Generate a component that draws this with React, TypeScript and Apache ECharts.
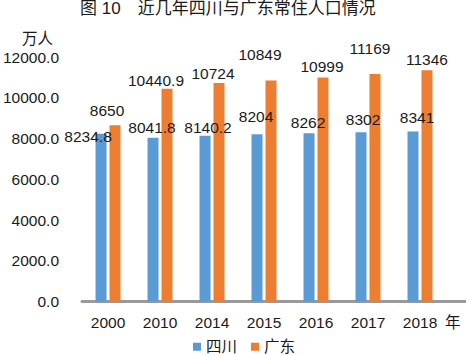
import React, { useEffect, useRef } from "react";
import * as echarts from "echarts";

const categories = ["2000", "2010", "2014", "2015", "2016", "2017", "2018"];
const sichuan = [8234.8, 8041.8, 8140.2, 8204, 8262, 8302, 8341];
const guangdong = [8650, 10440.9, 10724, 10849, 10999, 11169, 11346];
const yTicks = [0, 2000, 4000, 6000, 8000, 10000, 12000];

// label nudges (style only)
const sichuanLabelOffsets = [[-13, 16], [-1, 3], [3, 5], [-1, -5], [-1, 2], [2, 0], [4, -1]];
const guangdongLabelOffsets = [[-8, -2], [-11, 4], [-6, 3], [-11, -13], [-1, 2], [-5, -13], [0, 2]];

const FONT = "'Liberation Sans', 'Noto Sans CJK SC', sans-serif";
const TXT = "#1a1a1a";
const FS = 15.5;

export default function App() {
  const ref = useRef<HTMLDivElement>(null);
  useEffect(() => {
    if (!ref.current) return;
    const chart = echarts.init(ref.current, undefined, { renderer: "svg" });
    const fmt = (v: number) => (Number.isInteger(v) ? String(v) : v.toFixed(1));
    chart.setOption({
      animation: false,
      backgroundColor: "#ffffff",
      textStyle: { fontFamily: FONT, color: TXT },
      title: {
        text: "图 10　近几年四川与广东常住人口情况",
        left: 80,
        top: 0,
        padding: 0,
        textStyle: { fontSize: 17, fontWeight: "normal", color: TXT, fontFamily: FONT },
      },
      legend: {
        left: 193,
        top: 339,
        padding: 0,
        itemWidth: 8,
        itemHeight: 8,
        itemGap: 14,
        icon: "rect",
        textStyle: { fontSize: FS, color: TXT, fontFamily: FONT },
        data: ["四川", "广东"],
      },
      grid: { left: 82, right: 23, top: 57, bottom: 53.5, containLabel: false },
      xAxis: {
        type: "category",
        data: categories,
        axisLine: { show: true, lineStyle: { color: "#999999", width: 3 } },
        axisTick: { show: false },
        axisLabel: { fontSize: FS, color: TXT, margin: 13, fontFamily: FONT },
      },
      yAxis: {
        type: "value",
        min: yTicks[0],
        max: yTicks[yTicks.length - 1],
        interval: 2000,
        axisLine: { show: false },
        axisTick: { show: false },
        splitLine: { show: false },
        axisLabel: {
          fontSize: FS,
          color: TXT,
          margin: 23,
          fontFamily: FONT,
          formatter: (v: number) => v.toFixed(1),
        },
      },
      graphic: [
        {
          type: "line",
          shape: { x1: 445, y1: 301.5, x2: 466, y2: 301.5 },
          style: { stroke: "#999999", lineWidth: 3 },
        },
        {
          type: "text",
          x: 22,
          y: 38,
          style: { text: "万人", fill: TXT, font: `${FS}px ${FONT}`, verticalAlign: "middle" },
        },
        {
          type: "text",
          x: 445,
          y: 322,
          style: { text: "年", fill: TXT, font: `${FS}px ${FONT}`, verticalAlign: "middle" },
        },
      ],
      series: [
        {
          name: "四川",
          type: "bar",
          barWidth: 11,
          barGap: "27%",
          itemStyle: { color: "#5B9BD5" },
          data: sichuan.map((v, i) => ({
            value: v,
            label: { offset: sichuanLabelOffsets[i] },
          })),
          label: {
            show: true,
            position: "top",
            fontSize: FS,
            color: TXT,
            fontFamily: FONT,
            formatter: (p: any) => fmt(p.value),
          },
        },
        {
          name: "广东",
          type: "bar",
          barWidth: 11,
          itemStyle: { color: "#ED7D31" },
          data: guangdong.map((v, i) => ({
            value: v,
            label: { offset: guangdongLabelOffsets[i] },
          })),
          label: {
            show: true,
            position: "top",
            fontSize: FS,
            color: TXT,
            fontFamily: FONT,
            formatter: (p: any) => fmt(p.value),
          },
        },
      ],
    });
    return () => chart.dispose();
  }, []);
  return (
    <div
      ref={ref}
      style={{ position: "fixed", left: 0, top: 0, width: 469, height: 355, background: "#fff" }}
    />
  );
}
